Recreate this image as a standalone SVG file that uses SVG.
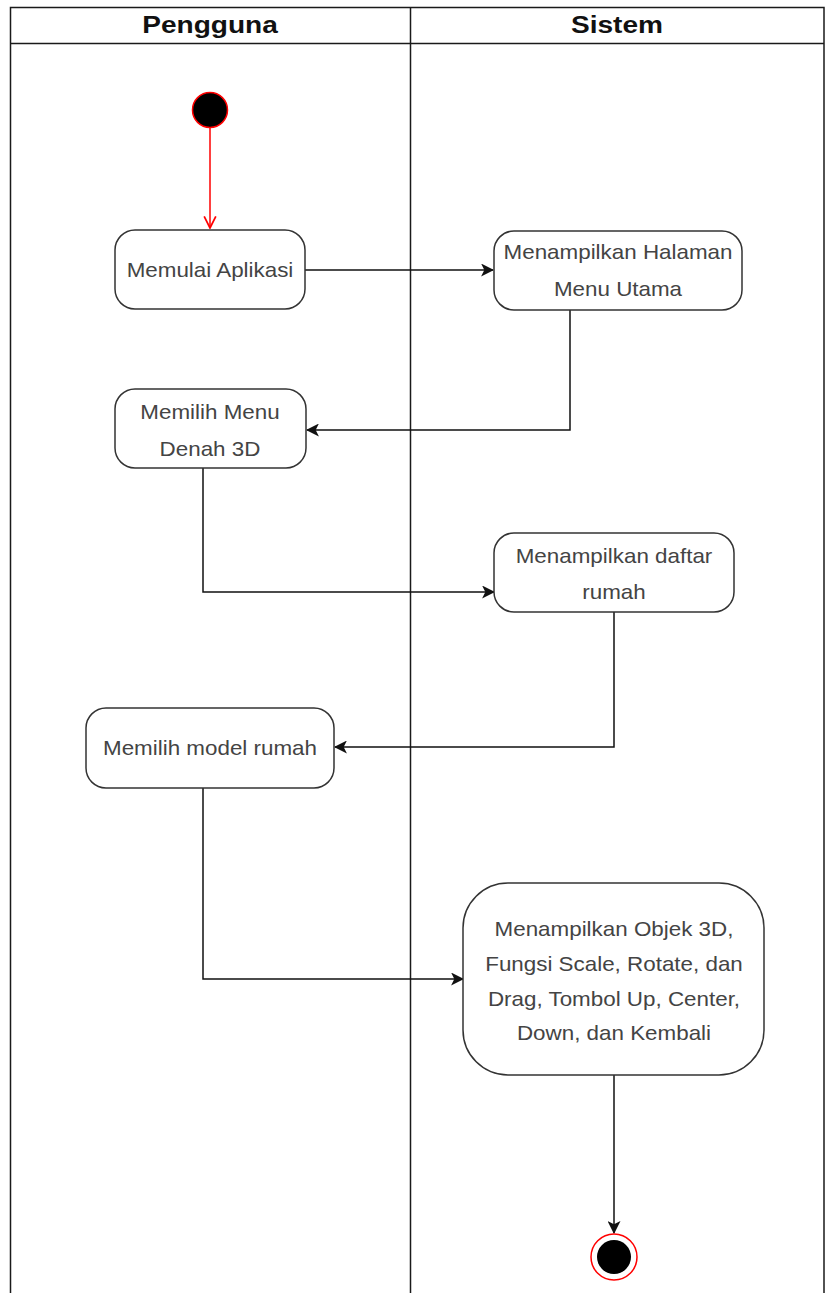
<svg xmlns="http://www.w3.org/2000/svg" width="825" height="1293" viewBox="0 0 825 1293">
  <style>
    .lane { fill: none; stroke: #1a1a1a; stroke-width: 1.5; }
    .hdr { font-family: "Liberation Sans", Arial, sans-serif; font-size: 24px; font-weight: bold; fill: #111; text-anchor: middle; }
    .act { fill: #ffffff; stroke: #333333; stroke-width: 1.5; }
    .lbl { font-family: "Liberation Sans", Arial, sans-serif; font-size: 20px; fill: #444444; text-anchor: middle; }
    .flow { fill: none; stroke: #111111; stroke-width: 1.5; }
    .start { fill: none; stroke: #ff0000; stroke-width: 1.5; }
  </style>
  <defs>
    <marker id="arrow" viewBox="0 0 12 12" refX="11" refY="6" markerWidth="13" markerHeight="13" markerUnits="userSpaceOnUse" orient="auto">
      <path d="M0,0 L12,6 L0,12 L3,6 Z" fill="#111111"/>
    </marker>
    <marker id="openRed" viewBox="0 0 12 12" refX="11" refY="6" markerWidth="14" markerHeight="14" markerUnits="userSpaceOnUse" orient="auto">
      <path d="M1,1 L11,6 L1,11" fill="none" stroke="#ff0000" stroke-width="1.5"/>
    </marker>
  </defs>

  <rect width="825" height="1293" fill="#ffffff"/>

  <!-- swimlanes -->
  <g id="lanes">
    <path class="lane" d="M10.5,1293 V7.5 H824 V1293"/>
    <path class="lane" d="M10.5,43.5 H824"/>
    <path class="lane" d="M410.5,7.5 V1293"/>
    <g transform="translate(210,33) scale(1.17,1)"><text class="hdr" x="0" y="0">Pengguna</text></g>
    <g transform="translate(617,33) scale(1.17,1)"><text class="hdr" x="0" y="0">Sistem</text></g>
  </g>

  <!-- connectors -->
  <g id="connectors">
    <path class="start" d="M210,128 V228" marker-end="url(#openRed)"/>
    <path class="flow" d="M305,270 H493" marker-end="url(#arrow)"/>
    <path class="flow" d="M570,310 V430 H307" marker-end="url(#arrow)"/>
    <path class="flow" d="M203,468 V592 H494" marker-end="url(#arrow)"/>
    <path class="flow" d="M614,612 V747 H335" marker-end="url(#arrow)"/>
    <path class="flow" d="M203,788 V979 H463" marker-end="url(#arrow)"/>
    <path class="flow" d="M614,1075 V1233" marker-end="url(#arrow)"/>
  </g>

  <g id="initial">
    <circle cx="210" cy="110" r="17.5" fill="#000000" stroke="#ff0000" stroke-width="1.5"/>
  </g>

  <!-- activity labels are drawn slightly widened: translate to centre, then scale x -->
  <g id="memulai-aplikasi">
    <rect class="act" x="115" y="230" width="190" height="79" rx="20"/>
    <g transform="translate(210,0) scale(1.12,1)"><text class="lbl" x="0" y="277">Memulai Aplikasi</text></g>
  </g>

  <g id="menampilkan-menu-utama">
    <rect class="act" x="494" y="231" width="248" height="79" rx="20"/>
    <g transform="translate(618,0) scale(1.12,1)">
      <text class="lbl" x="0" y="259">Menampilkan Halaman</text>
      <text class="lbl" x="0" y="296">Menu Utama</text>
    </g>
  </g>

  <g id="memilih-menu-denah">
    <rect class="act" x="115" y="389" width="191" height="79" rx="20"/>
    <g transform="translate(210,0) scale(1.12,1)">
      <text class="lbl" x="0" y="419">Memilih Menu</text>
      <text class="lbl" x="0" y="456">Denah 3D</text>
    </g>
  </g>

  <g id="menampilkan-daftar-rumah">
    <rect class="act" x="494" y="533" width="240" height="79" rx="20"/>
    <g transform="translate(614,0) scale(1.12,1)">
      <text class="lbl" x="0" y="563">Menampilkan daftar</text>
      <text class="lbl" x="0" y="599">rumah</text>
    </g>
  </g>

  <g id="memilih-model-rumah">
    <rect class="act" x="86" y="708" width="248" height="80" rx="20"/>
    <g transform="translate(210,0) scale(1.12,1)"><text class="lbl" x="0" y="755">Memilih model rumah</text></g>
  </g>

  <g id="menampilkan-objek-3d">
    <rect class="act" x="463" y="883" width="301" height="192" rx="45"/>
    <g transform="translate(614,0) scale(1.12,1)">
      <text class="lbl" x="0" y="936">Menampilkan Objek 3D,</text>
      <text class="lbl" x="0" y="971">Fungsi Scale, Rotate, dan</text>
      <text class="lbl" x="0" y="1006">Drag, Tombol Up, Center,</text>
      <text class="lbl" x="0" y="1040">Down, dan Kembali</text>
    </g>
  </g>

  <g id="final">
    <circle cx="614" cy="1257" r="23" fill="#ffffff" stroke="#ff0000" stroke-width="1.5"/>
    <circle cx="614" cy="1257" r="17" fill="#000000"/>
  </g>
</svg>
